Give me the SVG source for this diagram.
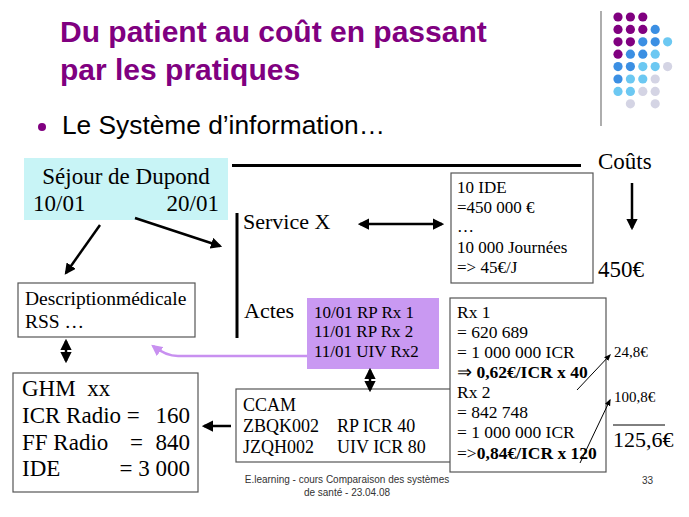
<svg xmlns="http://www.w3.org/2000/svg" width="689" height="517" viewBox="0 0 689 517">
<style>
.t{font-family:"Liberation Serif","Times New Roman",serif;fill:#000}
.s{font-family:"Liberation Sans",Arial,sans-serif}
.box{fill:#fff;stroke:#555;stroke-width:1.2}
.ln{stroke:#000;fill:none}
.p{fill:#800080}.b{fill:#3b8fe3}.l{fill:#6cc8f2}.g{fill:#d4d4e4}
</style>
<defs>
<marker id="ah" viewBox="0 0 10 10" refX="8" refY="5" markerWidth="4.5" markerHeight="4.5" orient="auto-start-reverse"><path d="M0,0 L10,5 L0,10 z" fill="#000"/></marker>
<marker id="ahs" viewBox="0 0 10 10" refX="8" refY="5" markerWidth="7" markerHeight="7" orient="auto"><path d="M0,1 L10,5 L0,9 z" fill="#000"/></marker>
<marker id="ahp" viewBox="0 0 10 10" refX="8" refY="5" markerWidth="4.5" markerHeight="4.5" orient="auto"><path d="M0,0 L10,5 L0,10 z" fill="#c890f0"/></marker>
</defs>
<rect width="689" height="517" fill="#fff"/>

<g id="header">
<text class="s" x="60" y="42" font-size="30" font-weight="bold" fill="#800080">Du patient au coût en passant</text>
<text class="s" x="60" y="80" font-size="30" font-weight="bold" fill="#800080">par les pratiques</text>
<circle cx="42" cy="127" r="4" fill="#800080"/>
<text class="s" x="62" y="134" font-size="25" fill="#000" textLength="323" lengthAdjust="spacingAndGlyphs">Le Système  d’information…</text>
<line x1="601" y1="11" x2="601" y2="126" stroke="#777" stroke-width="1.2"/>
<g id="dots">
<circle cx="618" cy="17" r="4.6" class="p"/><circle cx="630.4" cy="17" r="4.6" class="p"/><circle cx="642.8" cy="17" r="4.6" class="p"/>
<circle cx="618" cy="29.4" r="4.6" class="p"/><circle cx="630.4" cy="29.4" r="4.6" class="p"/><circle cx="642.8" cy="29.4" r="4.6" class="p"/><circle cx="655.2" cy="29.4" r="4.6" class="b"/>
<circle cx="618" cy="41.8" r="4.6" class="p"/><circle cx="630.4" cy="41.8" r="4.6" class="p"/><circle cx="642.8" cy="41.8" r="4.6" class="b"/><circle cx="655.2" cy="41.8" r="4.6" class="b"/><circle cx="667.6" cy="41.8" r="4.6" class="l"/>
<circle cx="618" cy="54.2" r="4.6" class="p"/><circle cx="630.4" cy="54.2" r="4.6" class="b"/><circle cx="642.8" cy="54.2" r="4.6" class="b"/><circle cx="655.2" cy="54.2" r="4.6" class="l"/>
<circle cx="618" cy="66.6" r="4.6" class="b"/><circle cx="630.4" cy="66.6" r="4.6" class="b"/><circle cx="642.8" cy="66.6" r="4.6" class="l"/><circle cx="655.2" cy="66.6" r="4.6" class="l"/><circle cx="667.6" cy="66.6" r="4.6" class="g"/>
<circle cx="618" cy="79" r="4.6" class="b"/><circle cx="630.4" cy="79" r="4.6" class="l"/><circle cx="642.8" cy="79" r="4.6" class="l"/><circle cx="655.2" cy="79" r="4.6" class="g"/>
<circle cx="618" cy="91.4" r="4.6" class="l"/><circle cx="630.4" cy="91.4" r="4.6" class="l"/><circle cx="642.8" cy="91.4" r="4.6" class="g"/><circle cx="655.2" cy="91.4" r="4.6" class="g"/>
<circle cx="630.4" cy="103.8" r="4.6" class="g"/><circle cx="655.2" cy="103.8" r="4.6" class="g"/>
</g>
</g>

<g id="sejour">
<rect x="24" y="158" width="204" height="62" fill="#c8f4f6"/>
<text class="t" x="126" y="184" font-size="23" text-anchor="middle">Séjour de Dupond</text>
<text class="t" x="33" y="211" font-size="23">10/01</text>
<text class="t" x="219" y="211" font-size="23" text-anchor="end">20/01</text>
</g>

<g id="couts">
<text class="t" x="598" y="169" font-size="23">Coûts</text>
<text class="t" x="598" y="277" font-size="23">450€</text>
</g>

<g id="service">
<text class="t" x="243" y="229" font-size="22">Service X</text>
<text class="t" x="244" y="318" font-size="22">Actes</text>
</g>

<g id="ide">
<rect class="box" x="451" y="173" width="142" height="110"/>
<text class="t" x="457" y="193" font-size="17">10 IDE</text>
<text class="t" x="457" y="213" font-size="17">=450 000 €</text>
<text class="t" x="457" y="232" font-size="17">…</text>
<text class="t" x="457" y="253" font-size="17">10 000 Journées</text>
<text class="t" x="457" y="273" font-size="17">=&gt; 45€/J</text>
</g>

<g id="description">
<rect class="box" x="18" y="283" width="177" height="54"/>
<text class="t" x="25" y="305" font-size="19.5">Descriptionmédicale</text>
<text class="t" x="25" y="328" font-size="19.5">RSS …</text>
</g>

<g id="actes">
<rect x="307" y="298" width="132" height="71" fill="#c999f2"/>
<text class="t" x="314" y="318" font-size="17">10/01 RP Rx 1</text>
<text class="t" x="314" y="337" font-size="17">11/01 RP Rx 2</text>
<text class="t" x="314" y="357" font-size="17">11/01 UIV Rx2</text>
</g>

<g id="ccam">
<rect class="box" x="236" y="389" width="216" height="73"/>
<text class="t" x="243" y="411" font-size="18">CCAM</text>
<text class="t" x="243" y="432" font-size="18">ZBQK002</text>
<text class="t" x="337" y="432" font-size="18">RP ICR 40</text>
<text class="t" x="243" y="453" font-size="18">JZQH002</text>
<text class="t" x="337" y="453" font-size="18">UIV ICR 80</text>
</g>

<g id="ghm">
<rect class="box" x="13" y="373" width="185" height="119"/>
<text class="t" x="22" y="396" font-size="23" xml:space="preserve">GHM  xx</text>
<text class="t" x="22" y="423" font-size="23">ICR Radio =</text>
<text class="t" x="190" y="423" font-size="23" text-anchor="end">160</text>
<text class="t" x="22" y="450" font-size="23">FF Radio</text>
<text class="t" x="130" y="450" font-size="23">=</text>
<text class="t" x="190" y="450" font-size="23" text-anchor="end">840</text>
<text class="t" x="22" y="476" font-size="23">IDE</text>
<text class="t" x="190" y="476" font-size="23" text-anchor="end">= 3 000</text>
</g>

<g id="rx">
<rect class="box" x="450" y="298" width="156" height="174"/>
<text class="t" x="457" y="318" font-size="17.5">Rx 1</text>
<text class="t" x="457" y="338" font-size="17.5">= 620 689</text>
<text class="t" x="457" y="358" font-size="17.5">= 1 000 000 ICR</text>
<text class="t" x="457" y="378" font-size="17.5">⇒ <tspan font-weight="bold">0,62€/ICR x 40</tspan></text>
<text class="t" x="457" y="398" font-size="17.5">Rx 2</text>
<text class="t" x="457" y="418" font-size="17.5">= 842 748</text>
<text class="t" x="457" y="438" font-size="17.5">= 1 000 000 ICR</text>
<text class="t" x="457" y="459" font-size="17.5">=&gt;<tspan font-weight="bold">0,84€/ICR x 120</tspan></text>
</g>

<g id="totals">
<text class="t" x="614" y="357" font-size="15">24,8€</text>
<text class="t" x="614" y="402" font-size="15">100,8€</text>
<line x1="613" y1="425" x2="665" y2="425" stroke="#000" stroke-width="1"/>
<text class="t" x="613" y="447" font-size="22">125,6€</text>
</g>

<g id="footer">
<text class="s" x="347" y="483" font-size="10" fill="#333" text-anchor="middle">E.learning - cours Comparaison des systèmes</text>
<text class="s" x="347" y="496" font-size="10" fill="#333" text-anchor="middle">de santé - 23.04.08</text>
<text class="s" x="642" y="484" font-size="10" fill="#333">33</text>
</g>

<g id="connectors">
<line class="ln" x1="232" y1="165.5" x2="581" y2="165.5" stroke-width="3"/>
<line class="ln" x1="237" y1="213" x2="237" y2="338" stroke-width="3"/>
<line class="ln" x1="632" y1="183" x2="632" y2="228" stroke-width="2.5" marker-end="url(#ah)"/>
<line class="ln" x1="100" y1="225" x2="66" y2="273" stroke-width="2.5" marker-end="url(#ah)"/>
<line class="ln" x1="135" y1="218" x2="220" y2="246" stroke-width="2.5" marker-end="url(#ah)"/>
<line class="ln" x1="360" y1="224" x2="442" y2="224" stroke-width="2.5" marker-start="url(#ah)" marker-end="url(#ah)"/>
<line class="ln" x1="66" y1="341" x2="66" y2="361" stroke-width="2.5" marker-start="url(#ah)" marker-end="url(#ah)"/>
<line class="ln" x1="370" y1="370" x2="370" y2="390" stroke-width="2.5" marker-start="url(#ah)" marker-end="url(#ah)"/>
<line class="ln" x1="231" y1="426" x2="204" y2="426" stroke-width="2.5" marker-end="url(#ah)"/>
<path d="M307,356 L178,356 Q166,356 153,346" fill="none" stroke="#c890f0" stroke-width="2.5" marker-end="url(#ahp)"/>
<line class="ln" x1="577" y1="390" x2="610" y2="355" stroke-width="1" marker-end="url(#ahs)"/>
<line class="ln" x1="580" y1="463" x2="610" y2="400" stroke-width="1" marker-end="url(#ahs)"/>
</g>
</svg>
